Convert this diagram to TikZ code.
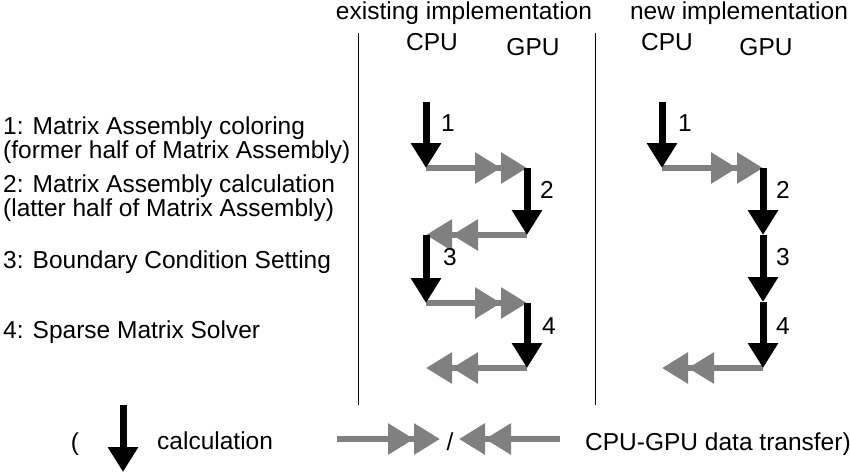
\documentclass[tikz,border=0pt]{standalone}
\usepackage{fontspec}
\setmainfont{Liberation Sans}
\usetikzlibrary{arrows.meta}
\definecolor{xfergray}{HTML}{808080}
\tikzset{
  lbl/.style={inner sep=0pt, font=\fontsize{24.5}{24.5}\selectfont},
  calcarrow/.style={line width=7pt, draw=black,
    -{Triangle[length=25pt,width=29pt]}},
  xferarrow/.style={line width=6pt, draw=xfergray,
    -{Triangle[length=26pt,width=30pt,color=xfergray]Triangle[length=26pt,width=30pt,color=xfergray]}},
  divider/.style={line width=1pt, draw=black}
}
\begin{document}
\begin{tikzpicture}[x=1pt,y=-1pt]
\useasboundingbox (0,0) rectangle (850,475);

% column headers
\node[lbl, anchor=base] (hexist) at (464,19) {existing implementation};
\node[lbl, anchor=base] (hnew) at (739,19) {new implementation};
\node[lbl, anchor=base] (cpuA) at (432,50) {CPU};
\node[lbl, anchor=base] (gpuA) at (533,55) {GPU};
\node[lbl, anchor=base] (cpuB) at (667,50) {CPU};
\node[lbl, anchor=base] (gpuB) at (766,55) {GPU};

% column dividers
\coordinate (d1t) at (358,33); \coordinate (d1b) at (358,405);
\coordinate (d2t) at (595,33); \coordinate (d2b) at (595,405);
\draw[divider] (d1t) -- (d1b);
\draw[divider] (d2t) -- (d2b);

% step descriptions
\node[lbl, anchor=base west] (s1a) at (3,134) {1: Matrix Assembly coloring};
\node[lbl, anchor=base west] (s1b) at (3,158) {(former half of Matrix Assembly)};
\node[lbl, anchor=base west] (s2a) at (3,192) {2: Matrix Assembly calculation};
\node[lbl, anchor=base west] (s2b) at (3,216) {(latter half of Matrix Assembly)};
\node[lbl, anchor=base west] (s3) at (3,268) {3: Boundary Condition Setting};
\node[lbl, anchor=base west] (s4) at (3,338) {4: Sparse Matrix Solver};

% existing implementation flow
\coordinate (e1) at (426,102);
\coordinate (e2) at (426,168);
\coordinate (e3) at (527,168);
\coordinate (e4) at (527,235);
\coordinate (e5) at (426,235);
\coordinate (e6) at (426,303);
\coordinate (e7) at (527,303);
\coordinate (e8) at (527,368);
\coordinate (e9) at (426,368);
\draw[xferarrow] (e2) -- (e3);
\draw[xferarrow] (e4) -- (e5);
\draw[xferarrow] (e6) -- (e7);
\draw[xferarrow] (e8) -- (e9);
\draw[calcarrow] (e1) -- (e2);
\draw[calcarrow] (e3) -- (e4);
\draw[calcarrow] (e5) -- (e6);
\draw[calcarrow] (e7) -- (e8);
\node[lbl] (en1) at (448,123) {1};
\node[lbl] (en2) at (547,190) {2};
\node[lbl] (en3) at (450,257) {3};
\node[lbl] (en4) at (549,326) {4};

% new implementation flow
\coordinate (n1) at (662,102);
\coordinate (n2) at (662,168);
\coordinate (n3) at (763,168);
\coordinate (n4) at (763,235);
\coordinate (n5) at (763,302);
\coordinate (n6) at (763,368);
\coordinate (n7) at (662,368);
\draw[xferarrow] (n2) -- (n3);
\draw[xferarrow] (n6) -- (n7);
\draw[calcarrow] (n1) -- (n2);
\draw[calcarrow] (n3) -- (n4);
\draw[calcarrow] (n4) -- (n5);
\draw[calcarrow] (n5) -- (n6);
\node[lbl] (nn1) at (685,123) {1};
\node[lbl] (nn2) at (783,190) {2};
\node[lbl] (nn3) at (783,257) {3};
\node[lbl] (nn4) at (783,326) {4};

% legend
\node[lbl, anchor=base] (lparen) at (75,450) {(};
\coordinate (lc1) at (123,405);
\coordinate (lc2) at (123,472);
\draw[calcarrow] (lc1) -- (lc2);
\node[lbl, anchor=base west] (lcalc) at (157,449) {calculation};
\coordinate (lr1) at (337,439);
\coordinate (lr2) at (440,439);
\draw[xferarrow] (lr1) -- (lr2);
\node[lbl, anchor=base] (lslash) at (450,450) {/};
\coordinate (ll1) at (560,439);
\coordinate (ll2) at (459,439);
\draw[xferarrow] (ll1) -- (ll2);
\node[lbl, anchor=base west] (lxfer) at (585,450) {CPU-GPU data transfer)};
\end{tikzpicture}
\end{document}
